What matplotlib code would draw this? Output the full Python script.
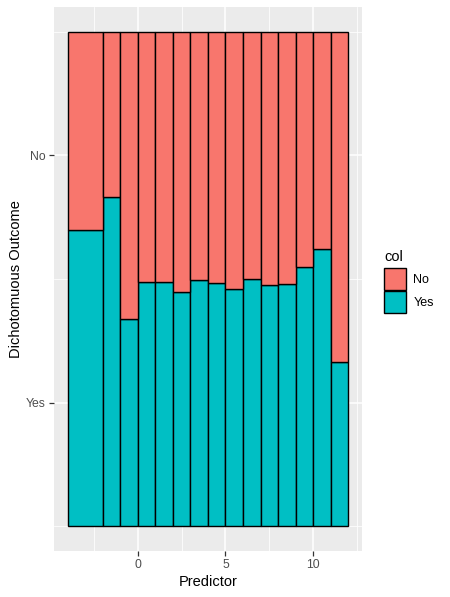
import numpy as np
import matplotlib
matplotlib.use("Agg")
import matplotlib.pyplot as plt
from matplotlib.patches import Patch

plt.rcParams["font.family"] = ["Liberation Sans", "DejaVu Sans"]

# bin edges of the predictor and share of "Yes" per bin
bin_edges = [-4, -2, -1, 0, 1, 2, 3, 4, 5, 6, 7, 8, 9, 10, 11, 12]
yes_share = [0.599, 0.665, 0.420, 0.493, 0.493, 0.473, 0.497, 0.491,
             0.479, 0.499, 0.487, 0.489, 0.524, 0.560, 0.331]
levels = ["No", "Yes"]
colors = {"No": "#F8766D", "Yes": "#00BFC4"}

edges = np.array(bin_edges, dtype=float)
yes = np.array(yes_share)
no = 1 - yes
left = edges[:-1]
width = np.diff(edges)

fig = plt.figure(figsize=(4.5, 5.97), dpi=100)
ax = fig.add_axes([53.5 / 450, 46.3 / 597, 308.8 / 450, 543.4 / 597])
ax.set_facecolor("#EBEBEB")

ax.bar(left, yes, width=width, align="edge", color=colors["Yes"],
       edgecolor="black", linewidth=1.0, zorder=3)
ax.bar(left, no, bottom=yes, width=width, align="edge", color=colors["No"],
       edgecolor="black", linewidth=1.0, zorder=3)

span = edges[-1] - edges[0]
ax.set_xlim(edges[0] - 0.05 * span, edges[-1] + 0.05 * span)
ax.set_ylim(-0.05, 1.05)

ax.set_xticks([0, 5, 10])
ax.set_xticks([-2.5, 2.5, 7.5, 12.5], minor=True)
ax.set_yticks([0.25, 0.75])
ax.set_yticklabels(["Yes", "No"])
ax.set_yticks([0.0, 0.5, 1.0], minor=True)

ax.grid(which="major", color="white", linewidth=1.1, zorder=0)
ax.grid(which="minor", color="white", linewidth=0.55, zorder=0)
ax.set_axisbelow(True)
for s in ax.spines.values():
    s.set_visible(False)

ax.tick_params(which="major", length=3.5, width=0.9, color="#333333",
               labelcolor="#4D4D4D", labelsize=8.8, pad=2.5)
ax.tick_params(which="minor", length=0)

ax.set_xlabel("Predictor", fontsize=10.5, color="black", labelpad=3)
ax.set_ylabel("Dichotomuous Outcome", fontsize=10.5, color="black", labelpad=2)

handles = [Patch(facecolor=colors[l], edgecolor="black", linewidth=1.0, label=l)
           for l in levels]
leg = fig.legend(handles=handles, title="col", loc="upper left",
                 bbox_to_anchor=(384 / 450, 1 - 250 / 597), frameon=False,
                 fontsize=9, title_fontsize=10.5, handlelength=1.76,
                 handleheight=2.33, handletextpad=0.6, labelspacing=0.05,
                 borderaxespad=0, borderpad=0)
leg._legend_box.align = "left"
leg._legend_box.sep = 3

fig.savefig("out.png", dpi=100)
